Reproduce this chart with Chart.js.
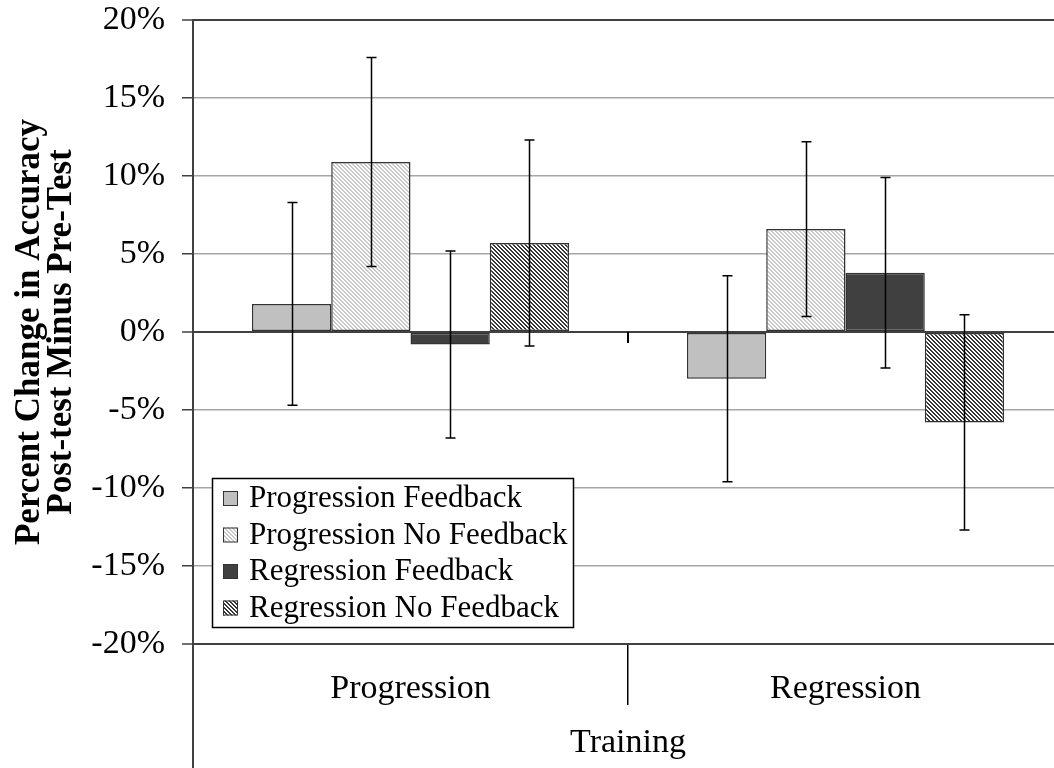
<!DOCTYPE html>
<html><head><meta charset="utf-8">
<script src="https://cdn.jsdelivr.net/npm/chart.js@4/dist/chart.umd.min.js"></script>
<style>html,body{margin:0;padding:0;background:#fff;overflow:hidden;} #wrap{width:1064px;height:768px;}</style>
</head><body><div id="wrap"><canvas id="c" width="1064" height="768"></canvas></div>
<script>
const categories = ['Progression', 'Regression'];
const seriesLabels = ['Progression Feedback', 'Progression No Feedback', 'Regression Feedback', 'Regression No Feedback'];
const progFeedback = [1.8, -3.0];
const progNoFeedback = [10.9, 6.6];
const regFeedback = [-0.8, 3.8];
const regNoFeedback = [5.7, -5.8];
const progFeedbackErr = [6.5, 6.6];
const progNoFeedbackErr = [6.7, 5.6];
const regFeedbackErr = [6.0, 6.1];
const regNoFeedbackErr = [6.6, 6.9];
const yTicks = [-20, -15, -10, -5, 0, 5, 10, 15, 20];
const xTitle = 'Training';
const yTitle = ['Percent Change in Accuracy', 'Post-test Minus Pre-Test'];

const FONT = '"Liberation Serif", "Times New Roman", serif';

function hatch(stripe, bg) {
  const c = document.createElement('canvas');
  c.width = 8; c.height = 8;
  const g = c.getContext('2d');
  g.fillStyle = bg; g.fillRect(0, 0, 8, 8);
  g.fillStyle = stripe;
  for (let y = 0; y < 8; y++) for (let x = 0; x < 8; x++) {
    if ((((x - y) % 4) + 4) % 4 < 2) g.fillRect(x, y, 1, 1);
  }
  return g.createPattern(c, 'repeat');
}
const fills = ['#c0c0c0', hatch('#c8c8c8', '#ffffff'), '#404040', hatch('#383838', '#ffffff')];
const seriesData = [progFeedback, progNoFeedback, regFeedback, regNoFeedback];
const seriesErr = [progFeedbackErr, progNoFeedbackErr, regFeedbackErr, regNoFeedbackErr];

const errorBarPlugin = {
  id: 'errorBars',
  afterDatasetsDraw(chart) {
    const ctx = chart.ctx, y = chart.scales.y;
    chart.data.datasets.forEach((ds, i) => {
      chart.getDatasetMeta(i).data.forEach((bar, j) => {
        const v = ds.data[j], e = ds.errors[j];
        const x = Math.round(bar.x) + 0.5;
        const yt = y.getPixelForValue(v + e), yb = y.getPixelForValue(v - e);
        ctx.save();
        ctx.strokeStyle = '#000'; ctx.lineWidth = 1.5;
        ctx.beginPath();
        ctx.moveTo(x, yt); ctx.lineTo(x, yb);
        ctx.moveTo(x - 5, yt); ctx.lineTo(x + 5, yt);
        ctx.moveTo(x - 5, yb); ctx.lineTo(x + 5, yb);
        ctx.stroke();
        ctx.restore();
      });
    });
  }
};

const decorPlugin = {
  id: 'decor',
  afterDraw(chart) {
    const ctx = chart.ctx, a = chart.chartArea, xs = chart.scales.x, ys = chart.scales.y;
    ctx.save();
    ctx.strokeStyle = '#404040'; ctx.lineWidth = 2;
    ctx.beginPath();
    ctx.moveTo(a.left, a.bottom); ctx.lineTo(a.left, chart.height);
    ctx.stroke();
    const y0 = ys.getPixelForValue(0);
    ctx.lineWidth = 2; ctx.strokeStyle = '#000';
    for (let i = 0; i < categories.length - 1; i++) {
      const xb = Math.round((xs.getPixelForValue(i) + xs.getPixelForValue(i + 1)) / 2);
      ctx.beginPath(); ctx.moveTo(xb, y0); ctx.lineTo(xb, y0 + 11); ctx.stroke();
    }
    const lx = a.left + 19, lw = 361, lh = 149, ly = a.bottom - 17 - lh;
    ctx.fillStyle = '#fff'; ctx.fillRect(lx, ly, lw, lh);
    ctx.strokeStyle = '#000'; ctx.lineWidth = 1.5;
    ctx.strokeRect(lx + 0.5, ly + 0.5, lw, lh);
    ctx.font = '31px ' + FONT;
    ctx.textBaseline = 'middle'; ctx.textAlign = 'left';
    chart.data.datasets.forEach((ds, i) => {
      const cy = ly + 20 + i * 36.5;
      ctx.fillStyle = ds.backgroundColor;
      ctx.fillRect(lx + 11, cy - 7, 15, 15);
      ctx.strokeStyle = '#333'; ctx.lineWidth = 1;
      ctx.strokeRect(lx + 11.5, cy - 6.5, 14, 14);
      ctx.fillStyle = '#000';
      ctx.fillText(ds.label, lx + 37, cy + 1);
    });
    ctx.restore();
  }
};

new Chart(document.getElementById('c'), {
  type: 'bar',
  data: {
    labels: categories,
    datasets: seriesLabels.map((lab, i) => ({
      label: lab,
      data: seriesData[i],
      errors: seriesErr[i],
      backgroundColor: fills[i],
      borderColor: '#333',
      borderWidth: 1.5,
      borderSkipped: false,
      barPercentage: 1.0,
      categoryPercentage: 0.729
    }))
  },
  options: {
    responsive: false,
    animation: false,
    devicePixelRatio: 1,
    layout: { padding: { top: 20, right: 1, left: 0, bottom: 0 }, autoPadding: false },
    plugins: { legend: { display: false }, tooltip: { enabled: false } },
    scales: {
      x: {
        afterFit(s) { s.height = 124; s.paddingLeft = 0; s.paddingRight = 0; },
        grid: { offset: true, drawOnChartArea: false, tickLength: 61, color: '#000', lineWidth: 1.5 },
        border: { display: true, color: '#404040', width: 2 },
        ticks: { color: '#000', font: { family: FONT, size: 34 }, padding: -36, maxRotation: 0 },
        title: { display: true, text: xTitle, color: '#000', font: { family: FONT, size: 34 }, padding: { top: 0, bottom: 5 } }
      },
      y: {
        min: -20, max: 20,
        afterFit(s) { s.width = 193; s.paddingTop = 0; s.paddingBottom = 0; },
        afterBuildTicks(s) { s.ticks = yTicks.map(v => ({ value: v })); },
        grid: {
          color: c => (c.tick && [0, 20, -20].includes(c.tick.value)) ? '#404040' : '#a6a6a6',
          lineWidth: c => (c.tick && [0, 20, -20].includes(c.tick.value)) ? 2 : 1.5,
          tickLength: 11, tickColor: '#404040', tickWidth: 1.5
        },
        border: { display: true, color: '#404040', width: 2 },
        ticks: { color: '#000', font: { family: FONT, size: 34 }, padding: 17, callback: v => v + '%' },
        title: { display: true, text: yTitle, color: '#000', font: { family: FONT, size: 35, weight: 'bold', lineHeight: '32px' }, padding: { top: 14, bottom: 0 } }
      }
    }
  },
  plugins: [errorBarPlugin, decorPlugin]
});
</script>
</body></html>
